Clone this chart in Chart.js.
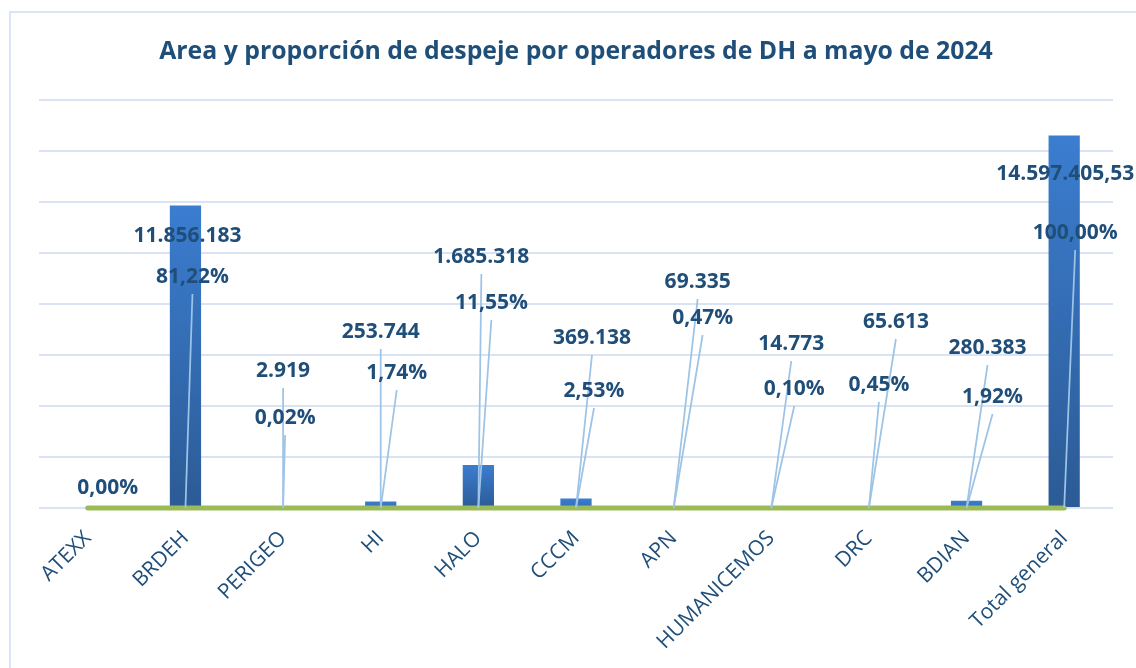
<!DOCTYPE html>
<html>
<head>
<meta charset="utf-8">
<script src="https://cdn.jsdelivr.net/npm/chart.js@4.4.1/dist/chart.umd.min.js"></script>
<style>
  html, body { margin: 0; padding: 0; background: #fff; }
  #wrap { width: 1136px; height: 668px; }
</style>
</head>
<body>
<div id="wrap"><canvas id="chart" width="1136" height="668"></canvas></div>
<script>
// data
const operadores = ["ATEXX", "BRDEH", "PERIGEO", "HI", "HALO", "CCCM", "APN", "HUMANICEMOS", "DRC", "BDIAN", "Total general"];
const area = [0, 11856183, 2919, 253744, 1685318, 369138, 69335, 14773, 65613, 280383, 14597405.53];
const proporcion = [0.0000, 0.8122, 0.0002, 0.0174, 0.1155, 0.0253, 0.0047, 0.0010, 0.0045, 0.0192, 1.0000];
const yMax = 16000000;
const yStep = 2000000;

// where Excel had its labels dragged to (pixel offset from category base)
const areaLabelPos = [null, [2, -272], [0, -137], [0, -176], [3, -251], [16, -170], [24, -226], [20, -164], [27, -186], [21, -160], [1, -334]];
const propLabelPos = [[20, -20], [7, -231], [2, -90], [16, -135], [13, -205], [18, -117], [29, -190], [23, -119], [10, -123], [26, -111], [11, -275]];

const textColor = '#1f4e79';
const labelFont = 'bold 21px "Open Sans"';

function fmtArea(v) {
  const neg = v < 0;
  v = Math.abs(v);
  let ent = Math.floor(v);
  let dec = Math.round((v - ent) * 100);
  let s = String(ent).replace(/\B(?=(\d{3})+(?!\d))/g, '.');
  if (dec > 0) s += ',' + String(dec).padStart(2, '0');
  return (neg ? '-' : '') + s;
}
function fmtPct(p) {
  return (p * 100).toFixed(2).replace('.', ',') + '%';
}

function barGradient(ctx) {
  const chart = ctx.chart;
  if (!chart.chartArea || ctx.type !== 'data') return '#3a78c6';
  const y = chart.scales.y;
  const top = y.getPixelForValue(ctx.raw);
  const base = y.getPixelForValue(0);
  if (!isFinite(top) || base - top < 1) return '#3a7acc';
  const g = chart.ctx.createLinearGradient(0, top, 0, base);
  const h = base - top;
  g.addColorStop(0, '#3b7dd0');
  g.addColorStop(1, h > 30 ? '#2c5b95' : '#336cb3');
  return g;
}

const frame = {
  id: 'frame',
  beforeDraw(chart) {
    const c = chart.ctx;
    c.save();
    c.fillStyle = '#fff';
    c.fillRect(0, 0, chart.width, chart.height);
    c.strokeStyle = '#dae5f5';
    c.lineWidth = 2;
    c.strokeRect(10, 12, chart.width + 20, chart.height + 20);
    c.restore();
  }
};

const labels = {
  id: 'labels',
  afterDatasetsDraw(chart) {
    const c = chart.ctx;
    const xs = chart.scales.x, ys = chart.scales.y;
    const base = ys.getPixelForValue(0);
    c.save();
    c.font = labelFont;
    c.textAlign = 'center';
    c.textBaseline = 'middle';
    function put(i, pos, text, anchorY) {
      if (!pos) return;
      const cx = xs.getPixelForValue(i);
      const lx = cx + pos[0], ly = base + pos[1];
      if (Math.abs(ly - anchorY) > 45) {
        c.strokeStyle = '#9dc3e6';
        c.lineWidth = 1.75;
        c.beginPath();
        c.moveTo(lx, ly + 17);
        c.lineTo(cx, base);
        c.stroke();
      }
      c.fillStyle = textColor;
      c.fillText(text, lx, ly);
    }
    operadores.forEach((op, i) => {
      put(i, areaLabelPos[i], fmtArea(area[i]), ys.getPixelForValue(area[i]));
      put(i, propLabelPos[i], fmtPct(proporcion[i]), base);
    });
    c.restore();
  }
};

new Chart(document.getElementById('chart'), {
  data: {
    labels: operadores,
    datasets: [
      {
        type: 'line',
        label: 'Proporción',
        data: proporcion,
        borderColor: '#9bbb59',
        borderWidth: 5,
        borderCapStyle: 'round',
        pointRadius: 0,
        clip: false,
        order: 0
      },
      {
        type: 'bar',
        label: 'Área',
        data: area,
        backgroundColor: barGradient,
        categoryPercentage: 1,
        barPercentage: 0.32,
        order: 1
      }
    ]
  },
  options: {
    responsive: false,
    animation: false,
    layout: { padding: { left: 39, right: 23, top: 0, bottom: 0 } },
    plugins: {
      legend: { display: false },
      tooltip: { enabled: false },
      title: {
        display: true,
        text: 'Area y proporción de despeje por operadores de DH a mayo de 2024',
        color: textColor,
        font: { family: '"Open Sans"', size: 24.8, weight: 'bold' },
        padding: { top: 37, bottom: 33 }
      }
    },
    scales: {
      x: {
        grid: { display: false },
        border: { display: false },
        ticks: {
          color: textColor,
          font: { family: '"Open Sans"', size: 21 },
          minRotation: 45,
          maxRotation: 45,
          autoSkip: false,
          padding: 10
        },
        afterFit(s) { s.height = 160; }
      },
      y: {
        min: 0,
        max: yMax,
        ticks: { display: false, stepSize: yStep },
        grid: { color: '#dae3f3', lineWidth: 2, drawTicks: false },
        border: { display: false },
        afterFit(s) { s.width = 0; }
      }
    }
  },
  plugins: [frame, labels]
});
</script>
</body>
</html>
